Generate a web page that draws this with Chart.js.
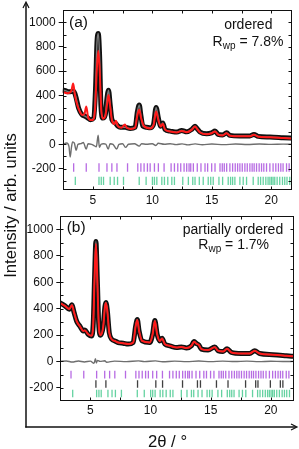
<!DOCTYPE html>
<html><head><meta charset="utf-8">
<script src="https://cdn.jsdelivr.net/npm/chart.js@4.4.0/dist/chart.umd.min.js"></script>
<style>
html,body{margin:0;padding:0;background:#fff;}
body{width:299px;height:449px;position:relative;overflow:hidden;font-family:"Liberation Sans",Arial,sans-serif;}
canvas{position:absolute;}
.t{position:absolute;white-space:nowrap;color:#111;}
.c{text-align:center;width:140px;}
.sub{font-size:10px;position:relative;top:3px;}
</style></head><body>
<canvas id="ca" width="299" height="212" style="left:0;top:0"></canvas>
<canvas id="cb" width="299" height="222" style="left:0;top:206px"></canvas>
<svg width="299" height="449" style="position:absolute;left:0;top:0">
  <line x1="26" y1="3" x2="26" y2="427.5" stroke="#111" stroke-width="1.5"/>
  <line x1="25.25" y1="427" x2="296" y2="427" stroke="#111" stroke-width="1.5"/>
  <polyline points="23,8 26,2 29,8" fill="none" stroke="#111" stroke-width="1.2"/>
  <polyline points="291,424 297,427 291,430" fill="none" stroke="#111" stroke-width="1.2"/>
</svg>
<div class="t" style="left:69px;top:13.8px;font-size:15.5px;line-height:15.5px">(a)</div>
<div class="t c" style="left:178.3px;top:15.7px;font-size:14px;line-height:16px">ordered</div>
<div class="t c" style="left:178px;top:33.1px;font-size:14px;line-height:16px">R<span class="sub">wp</span> = 7.8%</div>
<div class="t" style="left:66.7px;top:218.8px;font-size:15.5px;line-height:15.5px">(b)</div>
<div class="t c" style="left:163px;top:220.7px;font-size:14px;line-height:16px">partially ordered</div>
<div class="t c" style="left:163.7px;top:235.7px;font-size:14px;line-height:16px">R<span class="sub">wp</span> = 1.7%</div>
<div class="t" style="left:-90.5px;top:197px;width:200px;height:17px;text-align:center;font-size:16.7px;line-height:17px;transform:rotate(-90deg)">Intensity / arb. units</div>
<div class="t" style="left:117.5px;top:432.5px;width:100px;text-align:center;font-size:16.7px;line-height:17px">2θ / °</div>
<script>
// ---- tick labels ----
const xTickLabels = [5, 10, 15, 20];
const yTickLabels = [-200, 0, 200, 400, 600, 800, 1000];

// ---- panel (a): ordered ----
const obsA_x = [2.45,2.7,2.97,3.2,3.39,3.5,3.61,3.81,4.09,4.37,4.6,4.79,5.07,5.23,5.35,5.46,5.57,5.68,5.85,6.05,6.19,6.32,6.46,6.61,6.88,7.1,7.3,7.72,8.14,8.56,8.75,8.9,9.05,9.2,9.5,9.82,10.1,10.32,10.51,10.71,10.88,11.07,11.49,12.06,12.47,12.89,13.31,13.59,13.78,14.01,14.57,14.99,15.27,15.54,15.91,16.25,16.52,17.36,18.2,18.54,18.9,19.88,20.99,21.9];
const obsA_y = [445,440,430,432,436,415,377,296,243,229,215,202,215,457,834,909,729,323,215,243,377,444,323,202,175,150,140,140,130,140,269,323,230,150,140,135,162,302,215,148,175,122,108,100,114,102,122,148,127,100,86,94,108,81,76,94,73,68,68,81,65,60,54,49];

const calcA_x = [2.45,2.9,3.2,3.35,3.5,3.7,3.9,4.1,4.3,4.45,4.6,4.8,5.0,5.2,5.33,5.46,5.58,5.7,5.85,6.05,6.2,6.32,6.45,6.6,6.8,6.95,7.1,7.4,7.7,7.85,8.2,8.55,8.75,8.9,9.05,9.3,9.82,10.1,10.32,10.5,10.71,10.88,11.07,11.49,12.06,12.47,12.89,13.31,13.59,13.78,14.01,14.57,14.99,15.27,15.54,15.91,16.25,16.52,17.36,18.2,18.54,18.9,19.88,20.99,21.9];
const calcA_y = [430,418,440,498,400,320,270,240,250,310,225,200,200,300,600,767,600,300,210,230,330,404,320,200,165,194,150,135,162,135,125,135,240,283,220,150,130,155,269,200,145,168,120,105,97,110,99,118,145,124,97,83,91,105,79,73,91,70,65,65,78,62,57,51,46];

const diffA_x = [2.45,2.8,3.0,3.1,3.2,3.3,3.45,3.6,3.75,4.0,4.2,4.45,4.6,4.9,5.1,5.3,5.45,5.55,5.7,5.9,6.1,6.3,6.45,6.7,7.0,7.2,7.5,7.75,8.0,8.5,8.9,9.1,9.5,10.0,10.3,10.5,11.0,11.5,12.0,12.5,13.0,13.6,14.2,15.0,16.0,17.0,18.0,19.0,20.0,21.0,21.9];
const diffA_y = [0,10,-20,-105,-30,20,10,-50,0,5,15,-40,5,0,-10,-20,75,-25,0,5,0,-40,5,0,-40,0,5,-25,0,5,-15,5,0,5,-10,8,0,5,-3,3,-5,3,-4,2,-3,2,-2,2,-1,1,0];

// ---- panel (b): partially ordered ----
const obsB_x = [2.45,2.89,3.25,3.47,3.64,3.86,4.13,4.41,4.55,4.82,5.1,5.24,5.35,5.46,5.57,5.69,5.85,6.07,6.21,6.29,6.4,6.57,6.77,7.04,7.31,7.73,8.14,8.56,8.76,8.9,9.05,9.3,9.94,10.17,10.36,10.55,10.77,10.96,11.19,11.6,12.16,12.57,12.99,13.4,13.62,13.82,14.01,14.23,14.78,15.34,15.61,16.03,16.36,16.72,17.55,18.24,18.66,19.07,20.18,21.29,21.95];
const obsB_y = [446,421,396,429,372,304,267,230,237,205,193,292,640,909,640,292,198,267,416,446,392,217,168,155,143,138,131,143,267,317,230,155,143,205,310,205,155,175,131,118,105,110,101,118,150,135,125,93,86,110,81,75,96,68,60,60,81,60,51,43,38];

const calcB_x = [2.45,2.89,3.25,3.47,3.64,3.86,4.13,4.41,4.55,4.82,5.1,5.24,5.35,5.46,5.57,5.69,5.85,6.07,6.21,6.29,6.4,6.57,6.77,7.04,7.31,7.73,8.14,8.56,8.76,8.9,9.05,9.3,9.94,10.17,10.36,10.55,10.77,10.96,11.19,11.6,12.16,12.57,12.99,13.4,13.62,13.82,14.01,14.23,14.78,15.34,15.61,16.03,16.36,16.72,17.55,18.24,18.66,19.07,20.18,21.29,21.95];
const calcB_y = [444,420,397,425,372,305,266,231,235,205,194,290,635,890,638,292,199,266,412,442,390,218,168,155,143,138,131,143,265,314,230,155,143,204,306,205,155,173,131,118,105,110,101,118,148,134,125,93,86,108,81,75,95,68,60,60,80,60,51,43,38];

const diffB_x = [2.45,3.0,3.5,4.0,4.5,5.0,5.3,5.42,5.5,5.6,5.8,6.2,6.35,7.0,8.0,9.0,9.5,10.4,11.0,12.0,13.0,14.0,15.0,16.0,17.0,18.0,19.0,20.0,21.0,21.95];
const diffB_y = [0,3,-5,3,-4,2,-15,20,-12,8,0,5,-6,2,-2,4,-2,4,-3,2,-2,3,-2,2,-1,2,-2,1,-1,0];

// ---- Bragg reflection positions (2θ) ----
const reflPurple = [3.39,4.45,5.52,6.19,6.6,7.03,7.92,8.78,9.04,9.31,9.59,9.82,10.18,10.51,10.99,11.58,11.86,12.14,12.39,12.67,12.89,13.09,13.23,13.45,13.78,14.09,14.43,14.65,14.99,15.27,15.69,15.88,16.05,16.25,16.52,16.75,16.97,17.17,17.36,17.56,17.78,17.98,18.2,18.39,18.56,18.76,18.98,19.18,19.37,19.6,19.88,20.15,20.38,20.6,20.8,20.99,21.28,21.5];
const reflGreen = [3.53,5.52,5.71,5.9,6.46,6.8,7.08,7.58,8.9,9.48,10.01,10.18,10.38,10.8,11.02,11.3,11.64,11.86,12.56,13.03,13.4,13.59,13.95,14.28,14.7,14.91,15.12,15.6,15.91,16.38,16.58,16.75,16.94,17.36,17.64,17.92,18.48,18.9,19.1,19.32,19.54,19.73,19.88,20.02,20.15,20.29,20.49,20.71,20.94,21.13,21.32,21.55];
const reflBlack = [5.46,6.29,8.92,10.44,11.0,12.66,13.9,14.15,15.48,16.44,17.9,18.74,18.93,19.96,20.79,21.0];

// ---------------------------------------------------------
const zip = (xs, ys) => xs.map((x, i) => ({x, y: ys[i]}));
const row = (xs, level) => xs.map(x => ({x, y: level}));
const FONT = '"Liberation Sans", Arial, sans-serif';

const framePlugin = {
  id: 'frame',
  afterDatasetsDraw(chart) {
    const {ctx, chartArea: a, scales: {x, y}} = chart;
    const L = Math.round(a.left) + 0.5, R = Math.round(a.right) - 0.5;
    const T = Math.round(a.top) + 0.5, B = Math.round(a.bottom) - 0.5;
    ctx.save();
    ctx.strokeStyle = '#111'; ctx.lineWidth = 1;
    ctx.strokeRect(L, T, R - L, B - T);
    ctx.beginPath();
    for (let v = Math.ceil(y.min / 100) * 100; v <= y.max; v += 100) {
      const p = Math.round(y.getPixelForValue(v)) + 0.5;
      if (p < T + 1 || p > B - 1) continue;
      ctx.moveTo(L, p); ctx.lineTo(L + 3, p);
      ctx.moveTo(R, p); ctx.lineTo(R - 3, p);
    }
    for (let v = Math.ceil(x.min / 2.5) * 2.5; v <= x.max; v += 2.5) {
      const p = Math.round(x.getPixelForValue(v)) + 0.5;
      if (p < L + 1 || p > R - 1) continue;
      ctx.moveTo(p, T); ctx.lineTo(p, T + 3);
      ctx.moveTo(p, B); ctx.lineTo(p, B - 3);
    }
    ctx.stroke();
    ctx.restore();
  }
};

function makePanel(id, cfg) {
  const curve = (data, color, width) => ({data, showLine: true, borderColor: color, borderWidth: width,
    pointRadius: 0, cubicInterpolationMode: 'monotone', fill: false});
  const ticks = (data, color) => ({data, showLine: false, pointStyle: 'line', rotation: 90,
    pointRadius: cfg.tickR, pointBorderWidth: 1.3, pointBorderColor: color, pointBackgroundColor: color});
  const datasets = [
    curve(cfg.calc, '#ff1a1a', 2),
    curve(cfg.obs, '#7a7a7a', 1.4),
    curve(cfg.obs, '#111111', 5),
    curve(cfg.diff, '#6e6e6e', 1.4),
  ];
  cfg.rows.forEach(r => datasets.push(ticks(r.data, r.color)));
  new Chart(document.getElementById(id), {
    type: 'scatter',
    data: {datasets},
    options: {
      responsive: false, animation: false, devicePixelRatio: 1, events: [],
      layout: {padding: cfg.padding},
      plugins: {legend: {display: false}, tooltip: {enabled: false}},
      scales: {
        x: {type: 'linear', min: cfg.xmin, max: cfg.xmax,
          afterBuildTicks: s => { s.ticks = xTickLabels.map(v => ({value: v})); },
          afterFit: s => { s.height = cfg.xh; },
          grid: {display: false, drawTicks: false}, border: {display: false},
          ticks: {padding: cfg.xpad, maxRotation: 0, autoSkip: false, color: '#111',
            callback: v => String(v), font: {family: FONT, size: 12}}},
        y: {type: 'linear', min: cfg.ymin, max: cfg.ymax,
          afterBuildTicks: s => { s.ticks = yTickLabels.map(v => ({value: v})); },
          afterFit: s => { s.width = cfg.yw; },
          grid: {display: true, drawOnChartArea: false, drawTicks: true, tickLength: 4, color: '#111', lineWidth: 1},
          border: {display: false},
          ticks: {padding: 3, autoSkip: false, color: '#111',
            callback: v => String(v), font: {family: FONT, size: 12}}}
      }
    },
    plugins: [framePlugin]
  });
}

makePanel('ca', {
  obs: zip(obsA_x, obsA_y), calc: zip(calcA_x, calcA_y), diff: zip(diffA_x, diffA_y),
  rows: [{data: row(reflPurple, -190), color: 'rgba(165,70,220,0.8)'},
         {data: row(reflGreen, -300), color: 'rgba(50,195,130,0.75)'}],
  tickR: 4.2, xmin: 2.47, xmax: 21.74, ymin: -375, ymax: 1100,
  padding: {left: 0, right: 7, top: 7, bottom: 0}, yw: 62.7, xh: 22, xpad: 3
});

makePanel('cb', {
  obs: zip(obsB_x, obsB_y), calc: zip(calcB_x, calcB_y), diff: zip(diffB_x, diffB_y),
  rows: [{data: row(reflPurple, -100), color: 'rgba(165,70,220,0.8)'},
         {data: row(reflBlack, -171), color: 'rgba(30,30,30,0.85)'},
         {data: row(reflGreen, -243), color: 'rgba(50,195,130,0.75)'}],
  tickR: 3.8, xmin: 2.5, xmax: 21.9, ymin: -300, ymax: 1100,
  padding: {left: 0, right: 5, top: 7.3, bottom: 0}, yw: 60.3, xh: 27, xpad: 2
});
</script>
</body></html>
